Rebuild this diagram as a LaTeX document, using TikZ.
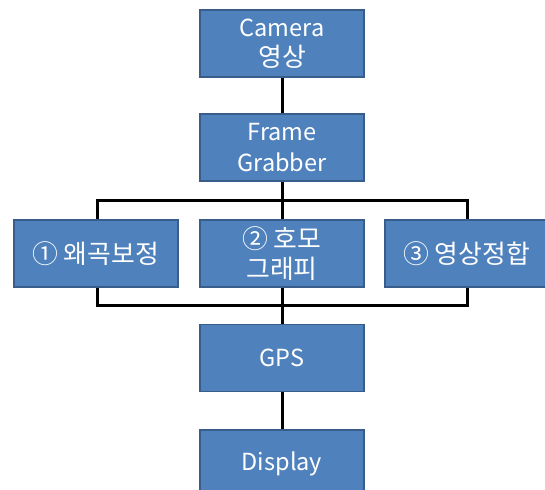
\documentclass[tikz,border=0pt]{standalone}
\usepackage{fontspec}
\setmainfont{Noto Sans CJK KR}
\newfontfamily\kr{Noto Sans CJK KR}[Scale=1.1]
\definecolor{boxfill}{HTML}{4F81BD}
\definecolor{boxedge}{HTML}{385D8A}
\begin{document}
\begin{tikzpicture}[x=1pt,y=-1pt,
  blk/.style={draw=boxedge,line width=1.8pt,fill=boxfill,text=white,
    minimum width=164pt,minimum height=67pt,inner sep=0pt,align=center,
    font=\fontsize{23.5}{30.5}\selectfont},
  wire/.style={line width=3pt,black}]
\useasboundingbox (0,0) rectangle (545,489);
\begin{scope}
\clip (0,0) rectangle (545,489);
\node[blk] (cam) at (282,43.5) {Camera\\{\kr 영상}};
\node[blk] (fg) at (282,147.5) {Frame\\Grabber};
\node[blk] (b1) at (96,253.5) {\kr ①\hspace{0.2em}왜곡보정};
\node[blk] (b2) at (282,253.5) {\kr ②\hspace{0.2em}호모\\\kr 그래피};
\node[blk] (b3) at (467,253.5) {\kr ③\hspace{0.2em}영상정합};
\node[blk] (gps) at (282,358) {GPS};
\node[blk] (disp) at (282,463.5) {Display};
\end{scope}
\coordinate (tl) at (97,200);
\coordinate (tr) at (467,200);
\coordinate (bl) at (97,305);
\coordinate (br) at (467,305);
\draw[wire] (cam.south) -- (fg.north);
\draw[wire] (fg.south) -- (b2.north);
\draw[wire] (b1.north -| tl) |- (tr) -- (b3.north -| tr);
\draw[wire] (b1.south -| bl) |- (br) -- (b3.south -| br);
\draw[wire] (b2.south) -- (gps.north);
\draw[wire] (gps.south) -- (disp.north);
\end{tikzpicture}
\end{document}
